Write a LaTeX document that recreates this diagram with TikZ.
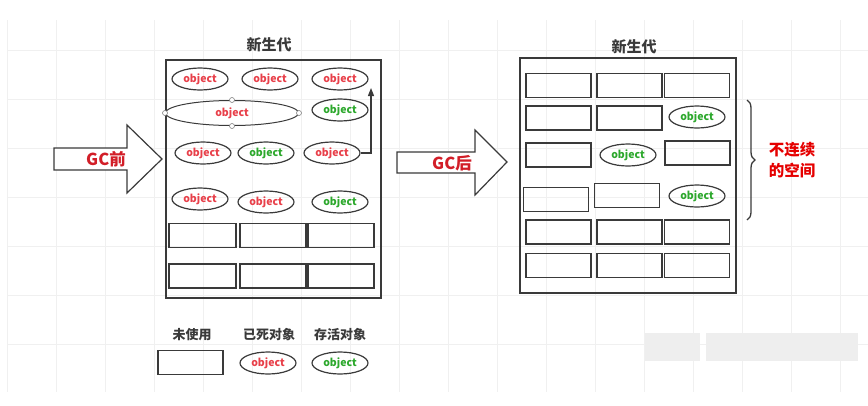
\documentclass[tikz,border=0pt]{standalone}
\usepackage{fontspec}
\newfontfamily\cjk{Noto Sans CJK SC}
\usetikzlibrary{shapes.geometric,arrows.meta,decorations.pathreplacing}
\definecolor{linec}{HTML}{3A3A3A}
\definecolor{deadred}{HTML}{E8404A}
\definecolor{livegreen}{HTML}{2DA82D}
\definecolor{gcred}{HTML}{D21E28}
\definecolor{gridc}{HTML}{F0F0F0}
\definecolor{markc}{HTML}{EEEEEE}
\tikzset{
  obj/.style={ellipse, draw=linec, line width=1.2pt, minimum width=56pt, minimum height=22pt, inner sep=0pt, font=\cjk\bfseries\fontsize{10.5}{12}\selectfont},
  dead/.style={obj, text=deadred},
  live/.style={obj, text=livegreen},
  slot/.style={draw=linec, line width=1.8pt, minimum width=65pt, minimum height=24pt, inner sep=0pt},
  heap/.style={draw=linec, line width=1.3pt},
  title/.style={font=\cjk\bfseries\fontsize{15}{18}\selectfont, text=linec},
  legend/.style={font=\cjk\bfseries\fontsize{13}{16}\selectfont, text=linec},
  gclabel/.style={font=\cjk\bfseries\fontsize{16.5}{18}\selectfont, text=gcred},
  blockarrow/.style={draw=linec, line width=1.2pt, fill=white},
  handle/.style={circle, draw=gray, fill=white, line width=0.6pt, minimum size=5pt, inner sep=0pt},
}
\begin{document}
\begin{tikzpicture}[x=1pt,y=-1pt]
\useasboundingbox (0,0) rectangle (868,405);
% faint grid
\foreach \gx in {7,56,...,868} \draw[gridc, line width=0.6pt] (\gx,20) -- (\gx,392);
\foreach \gy in {50,99,...,392} \draw[gridc, line width=0.6pt] (7,\gy) -- (868,\gy);
% blurred watermark
\fill[markc] (645,333) rectangle (700,361);
\fill[markc] (706,333) rectangle (858,361);

% ---------- GC before ----------
\draw[blockarrow] (54,148) -- (127,148) -- (127,125) -- (162,159) -- (127,193) -- (127,170) -- (54,170) -- cycle;
\node[gclabel] (gcbefore) at (106,159) {GC前};

\node[title] (t1) at (269,45) {新生代};
\draw[heap] (166,60) rectangle (381,298);

\node[dead] (a11) at (200,79) {object};
\node[dead] (a12) at (270,79) {object};
\node[dead] (a13) at (340,79) {object};

\node[dead, minimum width=133pt, minimum height=25pt, line width=1pt] (big) at (232,113) {object};
\node[live] (a22) at (340,110) {object};

\node[dead] (a31) at (203,153) {object};
\node[live] (a32) at (266,153) {object};
\node[dead] (a33) at (332,153) {object};

\node[dead] (a41) at (200,199) {object};
\node[dead] (a42) at (266,202) {object};
\node[live] (a43) at (340,202) {object};

\node[slot, minimum width=67pt] (a51) at (202.5,235.5) {};
\node[slot, minimum width=66pt] (a52) at (273,235.5) {};
\node[slot, minimum width=66pt] (a53) at (341,235.5) {};
\node[slot, minimum width=67pt] (a61) at (202.5,276) {};
\node[slot, minimum width=66pt] (a62) at (273,276) {};
\node[slot, minimum width=66pt] (a63) at (341,276) {};

\node[handle] (h1) at (big.north) {};
\node[handle] (h2) at (big.south) {};
\node[handle] (h3) at (big.west) {};
\node[handle] (h4) at (big.east) {};

\coordinate (up) at (371,88);
\draw[linec, line width=1.3pt, -{Triangle[length=8pt,width=6pt]}] (a33.east) -| (up);

% ---------- GC after ----------
\draw[blockarrow] (397,152) -- (475,152) -- (475,130) -- (507,162) -- (475,195) -- (475,173) -- (397,173) -- cycle;
\node[gclabel] (gcafter) at (452,163) {GC后};

\node[title] (t2) at (634,47) {新生代};
\draw[heap] (520,58) rectangle (736,293);

\node[slot] (b11) at (558.5,85.5) {};
\node[slot] (b12) at (629.5,85.5) {};
\node[slot] (b13) at (697,85.5) {};

\node[slot] (b21) at (558.5,118) {};
\node[slot] (b22) at (629.5,118) {};
\node[live] (b23) at (697,117) {object};

\node[slot] (b31) at (558.5,155) {};
\node[live] (b32) at (628,155) {object};
\node[slot] (b33) at (697.5,153) {};

\node[slot] (b41) at (556,199.5) {};
\node[slot] (b42) at (627,195.5) {};
\node[live] (b43) at (697,196) {object};

\node[slot] (b51) at (558.5,232) {};
\node[slot] (b52) at (629.5,232) {};
\node[slot] (b53) at (697,232) {};
\node[slot] (b61) at (558.5,265.5) {};
\node[slot] (b62) at (629.5,265.5) {};
\node[slot] (b63) at (697,265.5) {};

\coordinate (brtop) at (747,100);
\coordinate (brbot) at (747,220);
\draw[linec, line width=1.3pt, decorate, decoration={brace, amplitude=8pt}] (brtop) -- (brbot);
\node[gclabel, text=red!90!black, align=center, font=\cjk\bfseries\fontsize{15.5}{21}\selectfont] (gap) at (792,160) {不连续\\的空间};

% ---------- legend ----------
\node[legend] (l1) at (192,335) {未使用};
\node[legend] (l2) at (269,335) {已死对象};
\node[legend] (l3) at (340,335) {存活对象};
\node[slot] (u) at (190.5,362.5) {};
\node[dead] (d) at (268,363) {object};
\node[live] (v) at (340,363) {object};
\end{tikzpicture}
\end{document}
